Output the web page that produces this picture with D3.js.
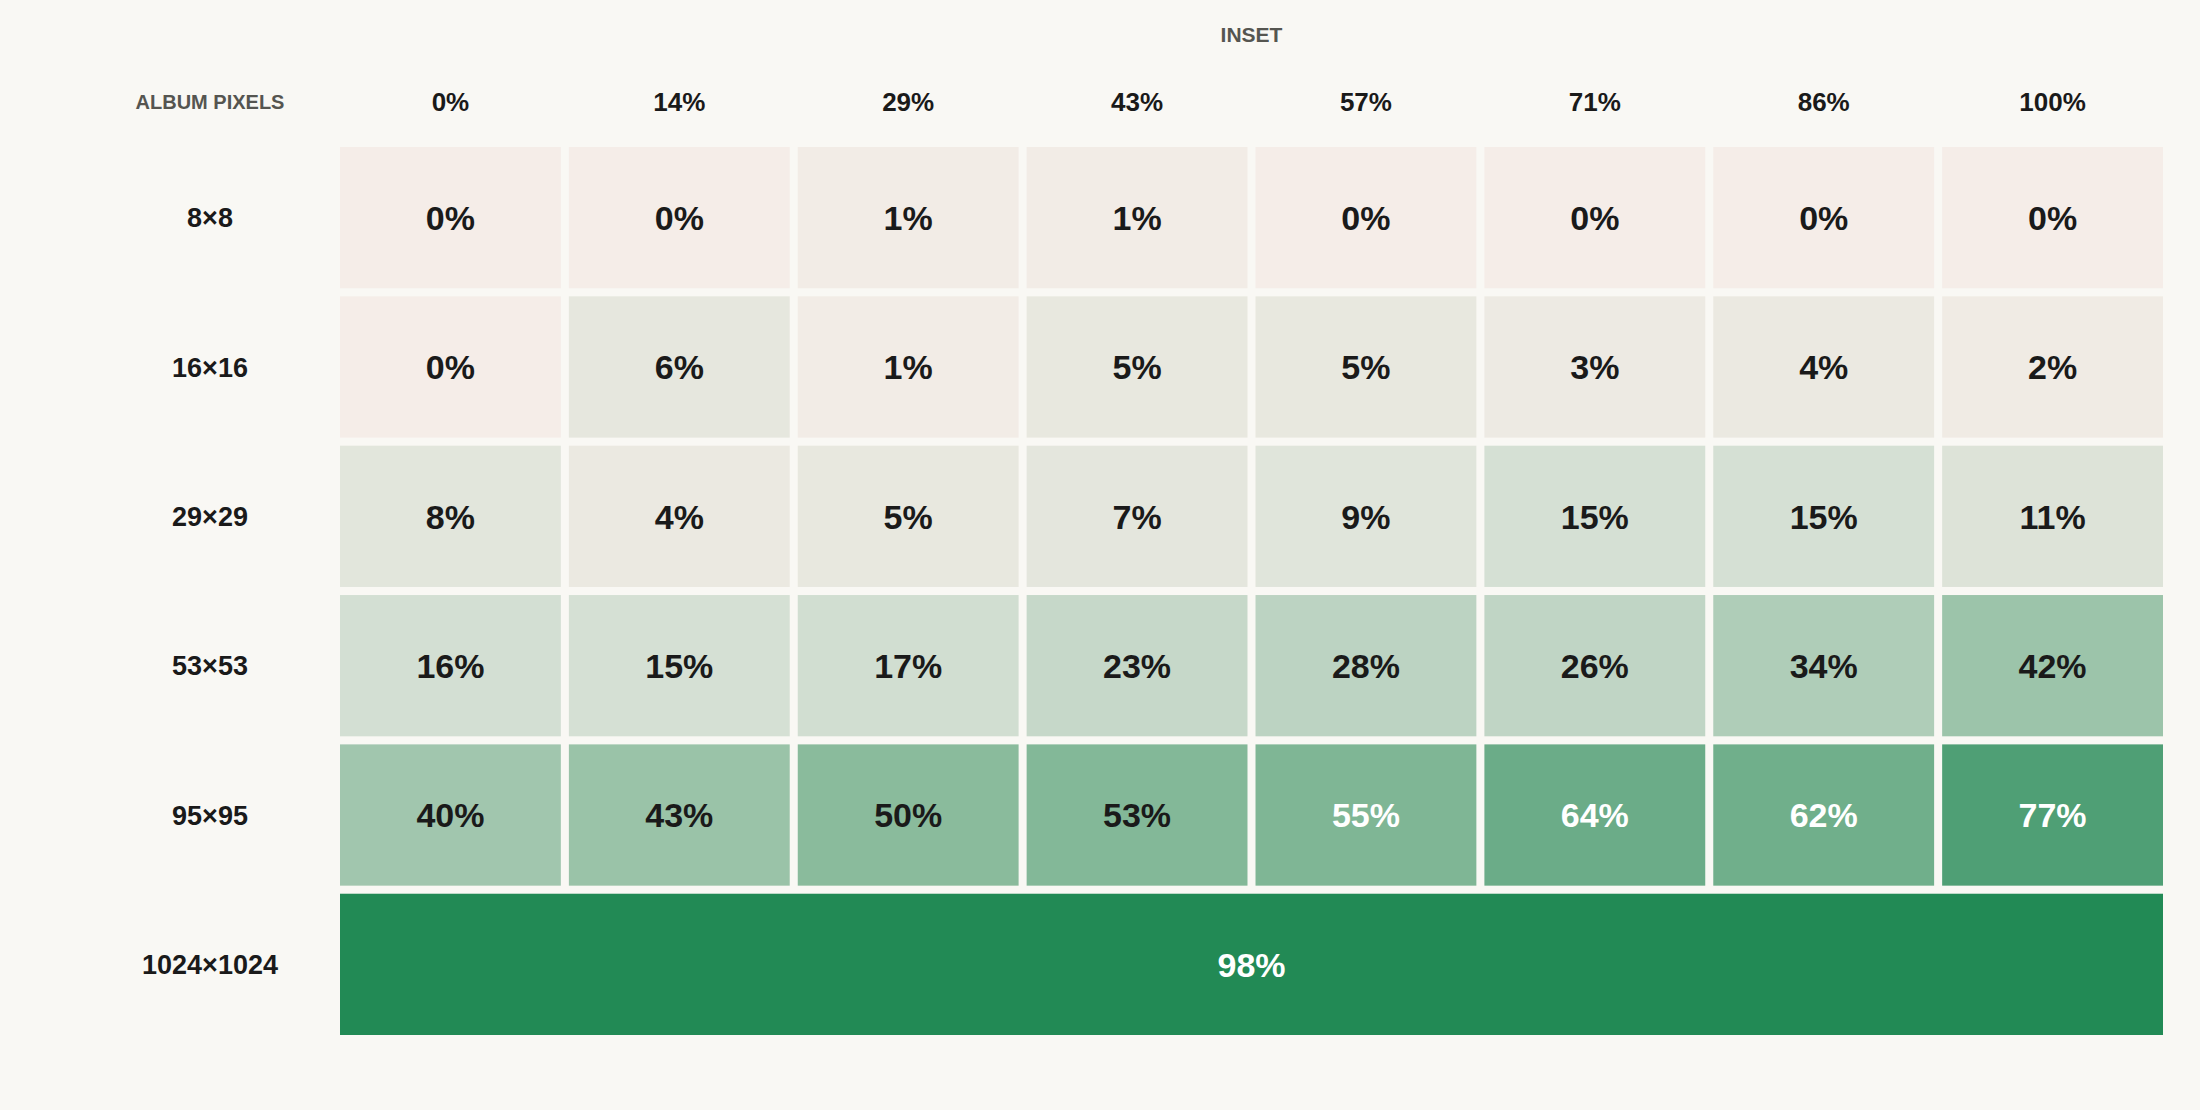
<!DOCTYPE html>
<html>
<head>
<meta charset="utf-8">
<script src="https://cdn.jsdelivr.net/npm/d3@7"></script>
<style>
  body { margin: 0; background: #f9f8f4; }
  text { font-family: "Liberation Sans", Arial, sans-serif; font-weight: bold; }
</style>
</head>
<body>
<svg id="chart"></svg>
<script>
// column headers (inset) and row labels (album pixels)
const insets = ['0%', '14%', '29%', '43%', '57%', '71%', '86%', '100%'];
const sizes = ['8×8', '16×16', '29×29', '53×53', '95×95', '1024×1024'];

// accuracy per size, one value per inset
const row8 = [0, 0, 1, 1, 0, 0, 0, 0];
const row16 = [0, 6, 1, 5, 5, 3, 4, 2];
const row29 = [8, 4, 5, 7, 9, 15, 15, 11];
const row53 = [16, 15, 17, 23, 28, 26, 34, 42];
const row95 = [40, 43, 50, 53, 55, 64, 62, 77];
const full = 98; // 1024x1024 spans all insets

const width = 2200, height = 1110;
const margin = { top: 147, left: 340, right: 45, bottom: 83 };

const svg = d3.select('#chart').attr('width', width).attr('height', height);

const x = d3.scaleBand().domain(insets)
    .range([margin.left, width - margin.right + 8]).paddingInner(8 / 228);
const y = d3.scaleBand().domain(sizes)
    .range([margin.top, height - margin.bottom + 8]).paddingInner(8 / 148);

const color = d3.scaleLinear()
    .domain([0, 5, 15, 30, 50, 77, 98])
    .range(['#f5ede8', '#e8e8df', '#d5e0d4', '#b8d1bf', '#8abb9c', '#4f9f75', '#228a55'])
    .interpolate(d3.interpolateRgb);

const rows = [row8, row16, row29, row53, row95];
const cells = [];
rows.forEach((r, i) => r.forEach((v, j) => cells.push({ size: sizes[i], inset: insets[j], v })));

const g = svg.append('g');
g.selectAll('rect.cell').data(cells).join('rect')
    .attr('class', 'cell')
    .attr('x', d => x(d.inset)).attr('y', d => y(d.size))
    .attr('width', x.bandwidth()).attr('height', y.bandwidth())
    .attr('fill', d => color(d.v));

g.selectAll('text.val').data(cells).join('text')
    .attr('class', 'val')
    .attr('x', d => x(d.inset) + x.bandwidth() / 2)
    .attr('y', d => y(d.size) + y.bandwidth() / 2)
    .attr('dy', '0.36em').attr('text-anchor', 'middle')
    .attr('font-size', 34)
    .attr('fill', d => d.v > 54 ? '#ffffff' : '#1a1a1a')
    .text(d => d.v + '%');

// full-width row
const last = sizes[sizes.length - 1];
const x0 = x(insets[0]), x1 = x(insets[insets.length - 1]) + x.bandwidth();
g.append('rect')
    .attr('x', x0).attr('y', y(last))
    .attr('width', x1 - x0).attr('height', y.bandwidth())
    .attr('fill', color(full));
g.append('text')
    .attr('x', (x0 + x1) / 2).attr('y', y(last) + y.bandwidth() / 2)
    .attr('dy', '0.36em').attr('text-anchor', 'middle')
    .attr('font-size', 34).attr('fill', '#ffffff')
    .text(full + '%');

// column headers
svg.selectAll('text.col').data(insets).join('text')
    .attr('class', 'col')
    .attr('x', d => x(d) + x.bandwidth() / 2).attr('y', 102)
    .attr('dy', '0.36em').attr('text-anchor', 'middle')
    .attr('font-size', 26).attr('fill', '#1a1a1a')
    .text(d => d);

// row labels
svg.selectAll('text.row').data(sizes).join('text')
    .attr('class', 'row')
    .attr('x', 210).attr('y', d => y(d) + y.bandwidth() / 2)
    .attr('dy', '0.36em').attr('text-anchor', 'middle')
    .attr('font-size', 27).attr('fill', '#1a1a1a')
    .text(d => d);

// axis titles
svg.append('text')
    .attr('x', (x0 + x1) / 2).attr('y', 34).attr('dy', '0.36em')
    .attr('text-anchor', 'middle').attr('font-size', 21).attr('fill', '#555550')
    .text('INSET');
svg.append('text')
    .attr('x', 210).attr('y', 102).attr('dy', '0.36em')
    .attr('text-anchor', 'middle').attr('font-size', 20).attr('fill', '#555550')
    .text('ALBUM PIXELS');
</script>
</body>
</html>
